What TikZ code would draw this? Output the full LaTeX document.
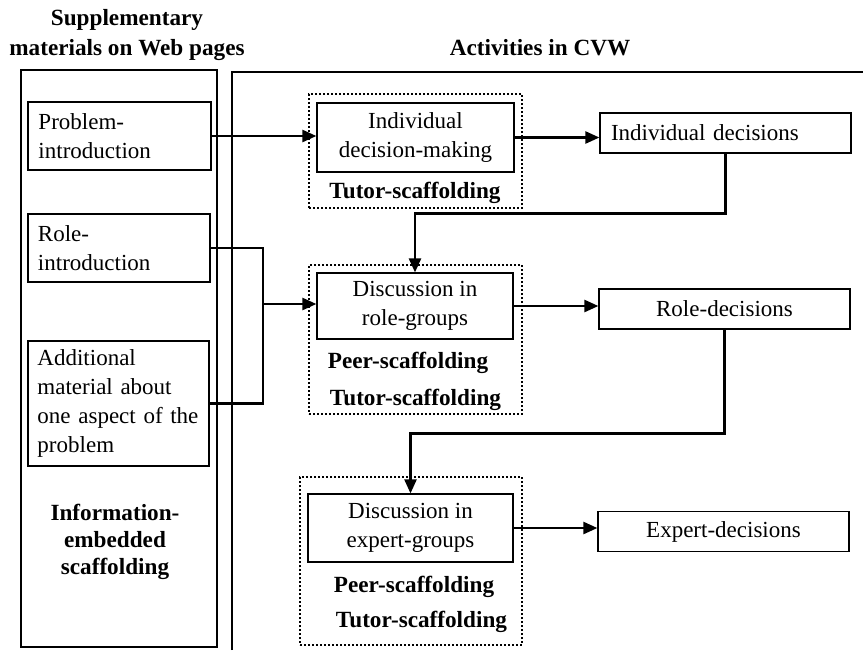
\documentclass[tikz,border=0pt]{standalone}
\usepackage{fontspec}
\setmainfont{Liberation Serif}
\usetikzlibrary{arrows.meta}

\newcommand*{\picw}{863}
\newcommand*{\pich}{650}

\begin{document}
\begin{tikzpicture}
[
	x=0.5pt,y=-0.5pt,
	font=\fontsize{11.5}{14.5}\selectfont,
	box/.style={draw,line width=0.6pt,inner sep=0pt,align=center},
	srcbox/.style={box,align=left,text width=81pt},
	outbox/.style={box,minimum width=125.5pt,minimum height=20pt},
	grpbox/.style={draw,line width=0.9pt,dash pattern=on 0.9pt off 1.1pt,inner sep=0pt},
	title/.style={font=\fontsize{11.6}{15}\selectfont\bfseries,align=center},
	scaf/.style={font=\fontsize{11.6}{14}\selectfont\bfseries,inner sep=0pt},
	line/.style={draw,line width=1.2pt},
	conn/.style={line,-{Triangle[length=7pt,width=6pt]}}
]

	\useasboundingbox (0,0) rectangle (\picw,\pich);

	% titles
	\node[title] at (127,35) (suptitle) {Supplementary\\materials on Web pages};
	\node[title] at (540,48) (acttitle) {Activities in CVW};

	% panels
	\draw[line width=0.6pt] (21,70) rectangle (217,647);
	\draw[line width=0.6pt] (232,\pich) |- (\picw,72);

	% web page materials
	\node[srcbox,minimum width=91.5pt,minimum height=34pt] at (119.5,136) (probin) {Problem-\\introduction};
	\node[srcbox,minimum width=91pt,minimum height=34pt] at (119,248) (rolein) {Role-\\introduction};
	\node[srcbox,minimum width=90.5pt,minimum height=62.5pt] at (118.5,403.5) (addmat) {Additional\\material about\\one aspect of the\\problem};
	\node[title,font=\fontsize{11.6}{13.5}\selectfont\bfseries] at (115,542) (infoscaf) {Information-\\embedded\\scaffolding};

	% individual step
	\node[grpbox,minimum width=106.5pt,minimum height=57pt] at (415.5,151) (indgrp) {};
	\node[box,minimum width=98.5pt,minimum height=34.5pt] at (415.5,137.5) (ind) {Individual\\decision-making};
	\node[scaf] at (415,193) (indtutor) {Tutor-scaffolding};

	% role-group step
	\node[grpbox,minimum width=106.5pt,minimum height=74.5pt] at (415.5,339.5) (rolegrpbox) {};
	\node[box,minimum width=98pt,minimum height=33pt] at (415,306) (rolegrp) {Discussion in\\role-groups};
	\node[scaf] at (408,363) (rolepeer) {Peer-scaffolding};
	\node[scaf] at (415.5,400) (roletutor) {Tutor-scaffolding};

	% expert-group step
	\node[grpbox,minimum width=111pt,minimum height=84pt] at (411,561) (expgrpbox) {};
	\node[box,minimum width=102.5pt,minimum height=34pt] at (410.5,528) (expgrp) {Discussion in\\expert-groups};
	\node[scaf] at (414,587) (exppeer) {Peer-scaffolding};
	\node[scaf] at (421.5,622) (exptutor) {Tutor-scaffolding};

	% decisions
	\node[outbox,text width=114.5pt,align=left] at (725.5,133) (inddec) {Individual decisions};
	\node[outbox] at (724.5,309) (roledec) {Role-decisions};
	\node[outbox] at (723.5,531.5) (expdec) {Expert-decisions};

	% arrows
	\draw[conn] (probin.east) -- (probin.east -| ind.west);
	\draw[conn] (ind.east) -- (ind.east -| inddec.west);
	\draw[conn] (inddec.south) -- ++(0,60) -| (rolegrp.north);

	\coordinate (join) at (263,304);
	\draw[line] (rolein.east) -| (join);
	\draw[line] (addmat.east) -| (join);
	\draw[conn] (join) -- (join -| rolegrp.west);

	\draw[conn] (rolegrp.east) -- (rolegrp.east -| roledec.west);
	\draw[conn] (roledec.south) -- ++(0,104) -| (expgrp.north);
	\draw[conn] (expgrp.east) -- (expgrp.east -| expdec.west);

\end{tikzpicture}
\end{document}
